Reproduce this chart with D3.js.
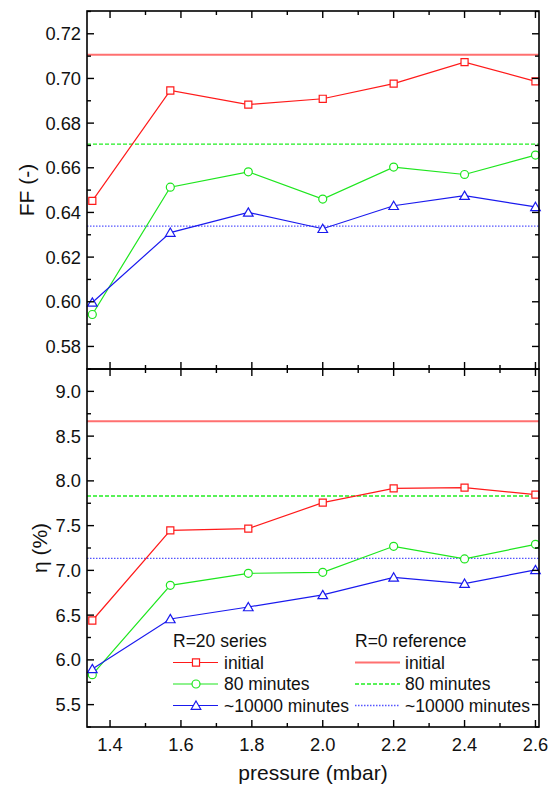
<!DOCTYPE html>
<html>
<head>
<meta charset="utf-8">
<script src="https://cdn.jsdelivr.net/npm/d3@7"></script>
<style>
  body { margin: 0; background: #fff; }
  svg text { font-family: "Liberation Sans", Arial, sans-serif; fill: #111; }
</style>
</head>
<body>
<svg id="chart"></svg>
<script>
// pressure values (mbar)
const pressure = [1.35, 1.57, 1.79, 2.0, 2.2, 2.4, 2.6];

// fill factor, R=20 series
const ffInitial = [0.6452, 0.6946, 0.6883, 0.6909, 0.6977, 0.7073, 0.6987];
const ff80 = [0.5943, 0.6513, 0.6582, 0.6460, 0.6603, 0.6570, 0.6657];
const ff10000 = [0.5997, 0.6310, 0.6400, 0.6327, 0.6430, 0.6475, 0.6425];
// fill factor, R=0 reference levels
const ffRef = [0.7106, 0.6706, 0.6339];

// efficiency, R=20 series
const etaInitial = [6.44, 7.447, 7.466, 7.757, 7.916, 7.924, 7.846];
const eta80 = [5.835, 6.833, 6.967, 6.978, 7.269, 7.128, 7.291];
const eta10000 = [5.899, 6.457, 6.591, 6.726, 6.922, 6.852, 7.005];
// efficiency, R=0 reference levels
const etaRef = [8.665, 7.831, 7.134];

const seriesNames = ["initial", "80 minutes", "~10000 minutes"];
const xTicks = [1.4, 1.6, 1.8, 2.0, 2.2, 2.4, 2.6];
const ffTicks = [0.58, 0.60, 0.62, 0.64, 0.66, 0.68, 0.70, 0.72];
const etaTicks = [5.5, 6.0, 6.5, 7.0, 7.5, 8.0, 8.5, 9.0];

const colors = ["#ff1a1a", "#1ee61e", "#1a1aee"];
const refColors = ["#ff7070", "#22ee22", "#5555ff"];
const refDash = [null, "4,2", "1.5,1.5"];
const symbols = [d3.symbolSquare, d3.symbolCircle, d3.symbolTriangle];
const symSize = [50, 50, 40];

const W = 558, H = 787;
const plotL = 87, plotR = 539, plotT = 11, plotM = 369, plotB = 727;

const svg = d3.select("#chart").attr("width", W).attr("height", H);

const x = d3.scaleLinear().domain([1.335, 2.61]).range([plotL, plotR]);
const yFF = d3.scaleLinear().domain([0.5699, 0.7302]).range([plotM, plotT]);
const yEta = d3.scaleLinear().domain([5.25, 9.25]).range([plotB, plotM]);

function minorTicks(lo, hi, step) {
  const out = [];
  for (let v = lo; v <= hi + 1e-9; v += step) out.push(+v.toFixed(4));
  return out;
}

function drawPanel(y0, y1, y, majors, minorStep, fmt, data, refs, title, titleX, showX) {
  const g = svg.append("g");

  // reference lines
  refs.forEach((v, i) => {
    g.append("line")
      .attr("x1", plotL).attr("x2", plotR)
      .attr("y1", y(v)).attr("y2", y(v))
      .attr("stroke", refColors[i])
      .attr("stroke-width", i === 0 ? 2 : 1.3)
      .attr("stroke-dasharray", refDash[i]);
  });

  // series lines + markers
  const line = d3.line().x((d, i) => x(pressure[i])).y(d => y(d));
  data.forEach((s, i) => {
    g.append("path").datum(s)
      .attr("d", line)
      .attr("fill", "none")
      .attr("stroke", colors[i])
      .attr("stroke-width", 1.2);
    g.selectAll(null).data(s).enter().append("path")
      .attr("d", d3.symbol().type(symbols[i]).size(symSize[i]))
      .attr("transform", (d, k) => `translate(${x(pressure[k])},${y(d) + (i === 2 ? 1 : 0)})`)
      .attr("fill", "#fff")
      .attr("stroke", colors[i])
      .attr("stroke-width", 1.2);
  });

  // frame
  g.append("rect")
    .attr("x", plotL).attr("y", y1)
    .attr("width", plotR - plotL).attr("height", y0 - y1)
    .attr("fill", "none").attr("stroke", "#000").attr("stroke-width", 1.6);

  // y ticks (inside, both sides)
  const yDom = y.domain();
  const yMin = minorTicks(Math.ceil(yDom[0] / minorStep) * minorStep, yDom[1], minorStep);
  yMin.forEach(v => {
    const major = majors.some(m => Math.abs(m - v) < 1e-6);
    const len = major ? 7 : 4;
    g.append("line").attr("x1", plotL).attr("x2", plotL + len)
      .attr("y1", y(v)).attr("y2", y(v)).attr("stroke", "#000").attr("stroke-width", 1.4);
    g.append("line").attr("x1", plotR).attr("x2", plotR - len)
      .attr("y1", y(v)).attr("y2", y(v)).attr("stroke", "#000").attr("stroke-width", 1.4);
  });
  g.selectAll(null).data(majors).enter().append("text")
    .attr("x", plotL - 6).attr("y", d => y(d))
    .attr("dy", "0.36em")
    .attr("text-anchor", "end")
    .style("font-size", "18.3px")
    .text(fmt);

  // x ticks (inside, top and bottom)
  const xMin = minorTicks(1.4, 2.6, 0.1);
  xMin.forEach(v => {
    const major = xTicks.some(m => Math.abs(m - v) < 1e-6);
    const len = major ? 7 : 4;
    g.append("line").attr("x1", x(v)).attr("x2", x(v))
      .attr("y1", y0).attr("y2", y0 - len).attr("stroke", "#000").attr("stroke-width", 1.4);
    g.append("line").attr("x1", x(v)).attr("x2", x(v))
      .attr("y1", y1).attr("y2", y1 + len).attr("stroke", "#000").attr("stroke-width", 1.4);
  });
  if (showX) {
    g.selectAll(null).data(xTicks).enter().append("text")
      .attr("x", d => x(d)).attr("y", y0 + 23.5)
      .attr("text-anchor", "middle")
      .style("font-size", "18.3px")
      .text(d3.format(".1f"));
  }

  // y title
  g.append("text")
    .attr("transform", `translate(${titleX},${(y0 + y1) / 2}) rotate(-90)`)
    .attr("text-anchor", "middle")
    .style("font-size", "21px")
    .text(title);
}

drawPanel(plotM, plotT, yFF, ffTicks, 0.01, d3.format(".2f"),
  [ffInitial, ff80, ff10000], ffRef, "FF (-)", 34, false);
drawPanel(plotB, plotM, yEta, etaTicks, 0.25, d3.format(".1f"),
  [etaInitial, eta80, eta10000], etaRef, "\u03b7 (%)", 47, true);

// x title
svg.append("text")
  .attr("x", (plotL + plotR) / 2).attr("y", 780)
  .attr("text-anchor", "middle")
  .style("font-size", "21px")
  .text("pressure (mbar)");

// legend
const leg = svg.append("g");
const rowY = [662.5, 684, 705.5];
leg.append("text").attr("x", 173).attr("y", 647).style("font-size", "17.5px").text("R=20 series");
leg.append("text").attr("x", 355).attr("y", 647).style("font-size", "17.5px").text("R=0 reference");
seriesNames.forEach((name, i) => {
  leg.append("line").attr("x1", 173).attr("x2", 218)
    .attr("y1", rowY[i]).attr("y2", rowY[i])
    .attr("stroke", colors[i]).attr("stroke-width", 1.2);
  leg.append("path")
    .attr("d", d3.symbol().type(symbols[i]).size(symSize[i]))
    .attr("transform", `translate(196,${rowY[i] + (i === 2 ? 1 : 0)})`)
    .attr("fill", "#fff").attr("stroke", colors[i]).attr("stroke-width", 1.2);
  leg.append("text").attr("x", 224).attr("y", rowY[i]).attr("dy", "0.36em")
    .style("font-size", "17.5px").text(name);

  leg.append("line").attr("x1", 355).attr("x2", 400)
    .attr("y1", rowY[i]).attr("y2", rowY[i])
    .attr("stroke", refColors[i])
    .attr("stroke-width", i === 0 ? 2 : 1.3)
    .attr("stroke-dasharray", refDash[i]);
  leg.append("text").attr("x", 405).attr("y", rowY[i]).attr("dy", "0.36em")
    .style("font-size", "17.5px").text(name);
});
</script>
</body>
</html>
